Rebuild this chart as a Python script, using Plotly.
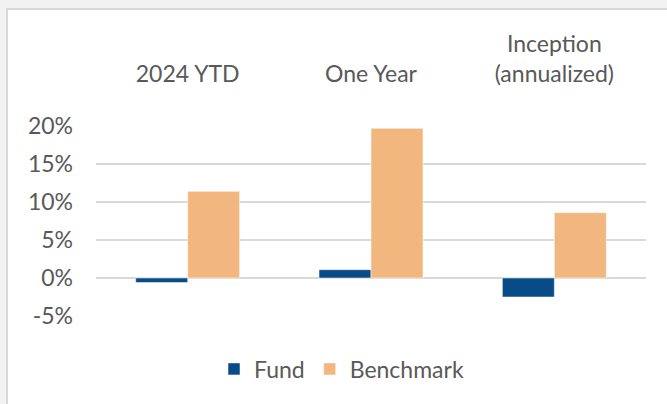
import plotly.graph_objects as go

categories = ["2024 YTD", "One Year", "Inception<br>(annualized)"]
fund = [-0.6, 1.1, -2.5]
benchmark = [11.4, 19.7, 8.6]
y_ticks = [-5, 0, 5, 10, 15, 20]
y_tick_labels = ["-5%", "0%", "5%", "10%", "15%", "20%"]

FUND_COLOR = "#074C87"
BENCH_COLOR = "#F2B77E"
TEXT_COLOR = "#595959"
GRID_COLOR = "#D9D9D9"
FONT = "Lato, 'Open Sans', sans-serif"
FS = 23

fig = go.Figure()
fig.add_trace(go.Bar(name="Fund", x=categories, y=fund, marker_color=FUND_COLOR,
                     marker_line=dict(color="rgba(255,255,255,0.5)", width=1)))
fig.add_trace(go.Bar(name="Benchmark", x=categories, y=benchmark, marker_color=BENCH_COLOR,
                     marker_line=dict(color="rgba(255,255,255,0.5)", width=1)))

L, R, T, B = 96, 21, 126, 88
W, H = 667, 404
pw, ph = W - L - R, H - T - B

def px_x(p):
    return (p - L) / pw

def px_y(p):
    return (H - B - p) / ph

fig.update_layout(
    width=W, height=H,
    margin=dict(l=L, r=R, t=T, b=B, pad=0, autoexpand=False),
    barmode="group",
    bargap=0.433,
    bargroupgap=0,
    paper_bgcolor="#F2F2F2",
    plot_bgcolor="white",
    font=dict(family=FONT, size=FS, color=TEXT_COLOR),
    showlegend=True,
    legend=dict(orientation="h", x=px_x(214), xanchor="left", y=px_y(369), yanchor="middle",
                font=dict(size=FS, color=TEXT_COLOR), bgcolor="rgba(0,0,0,0)",
                itemwidth=30, traceorder="normal"),
    shapes=[
        dict(type="rect", xref="paper", yref="paper", layer="below",
             x0=px_x(7), x1=px_x(760), y0=px_y(9), y1=px_y(500),
             fillcolor="white", line=dict(color=GRID_COLOR, width=2)),
    ],
)
fig.update_xaxes(side="top", showgrid=False, zeroline=False, showline=False, automargin=False,
                 ticks="", ticklabelstandoff=38, tickfont=dict(size=FS, color=TEXT_COLOR))
fig.update_yaxes(range=[-5, 20], tickvals=y_ticks, ticktext=y_tick_labels, automargin=False,
                 showgrid=True, gridcolor=GRID_COLOR, gridwidth=1.5,
                 zeroline=True, zerolinecolor=GRID_COLOR, zerolinewidth=1.5,
                 showline=False, ticks="", ticklabelstandoff=22,
                 tickfont=dict(size=FS, color=TEXT_COLOR))

fig.write_html("out.html", config={"displayModeBar": False},
               post_script="document.body.style.margin='0';")
